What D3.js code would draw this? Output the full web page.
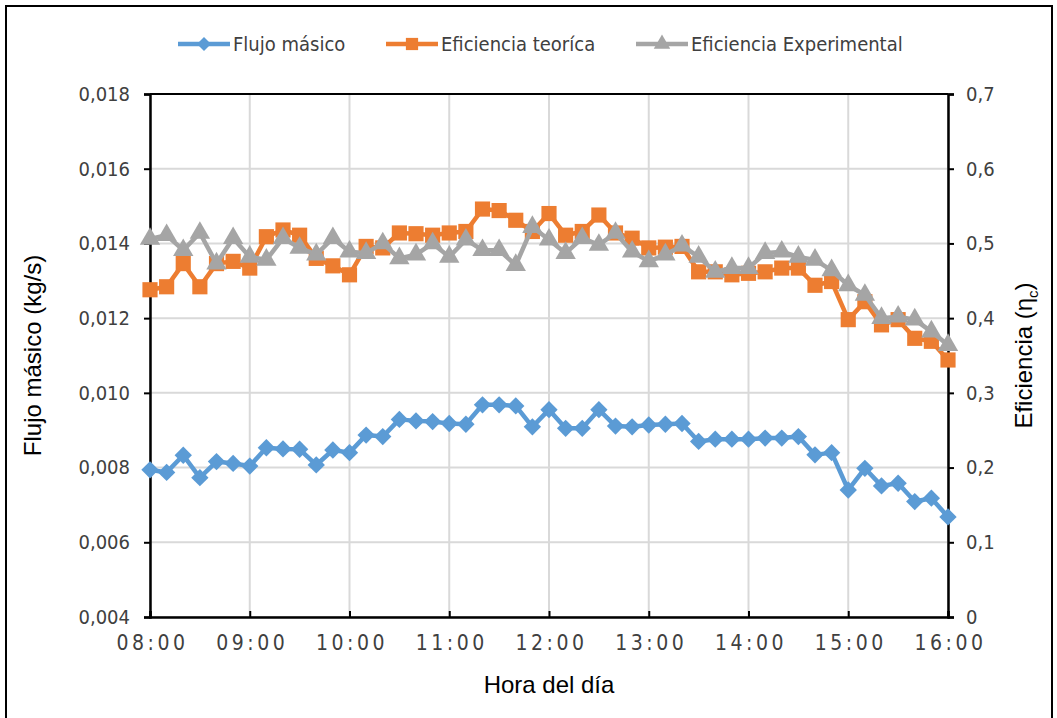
<!DOCTYPE html>
<html>
<head>
<meta charset="utf-8">
<script src="https://cdn.jsdelivr.net/npm/d3@7/dist/d3.min.js"></script>
<style>
  body { margin: 0; background: #fff; }
  svg { display: block; }
  .tick text { fill: #404040; }
</style>
</head>
<body>
<svg id="chart" width="1057" height="718"></svg>
<script>
// Hourly log, one reading every 10 minutes
const times = [
  "08:00","08:10","08:20","08:30","08:40","08:50",
  "09:00","09:10","09:20","09:30","09:40","09:50",
  "10:00","10:10","10:20","10:30","10:40","10:50",
  "11:00","11:10","11:20","11:30","11:40","11:50",
  "12:00","12:10","12:20","12:30","12:40","12:50",
  "13:00","13:10","13:20","13:30","13:40","13:50",
  "14:00","14:10","14:20","14:30","14:40","14:50",
  "15:00","15:10","15:20","15:30","15:40","15:50",
  "16:00"
];

// Mass flow (kg/s)
const flujoMasico = [
  0.00794, 0.00787, 0.00833, 0.00773, 0.00816, 0.00811,
  0.00804, 0.00853, 0.00850, 0.00849, 0.00807, 0.00847,
  0.00840, 0.00887, 0.00883, 0.00929, 0.00925, 0.00923,
  0.00918, 0.00916, 0.00968, 0.00968, 0.00965, 0.00909,
  0.00955, 0.00905, 0.00905, 0.00955, 0.00911, 0.00909,
  0.00914, 0.00916, 0.00918, 0.00870, 0.00876, 0.00876,
  0.00876, 0.00879, 0.00879, 0.00883, 0.00834, 0.00840,
  0.00740, 0.00798, 0.00751, 0.00758, 0.00709, 0.00718,
  0.00668
];

// Theoretical efficiency
const eficienciaTeorica = [
  0.438, 0.442, 0.473, 0.442, 0.473, 0.476,
  0.467, 0.509, 0.518, 0.511, 0.480, 0.470,
  0.458, 0.496, 0.494, 0.514, 0.513, 0.511,
  0.514, 0.516, 0.546, 0.544, 0.531, 0.516,
  0.540, 0.511, 0.516, 0.538, 0.514, 0.507,
  0.494, 0.495, 0.496, 0.462, 0.462, 0.458,
  0.460, 0.462, 0.467, 0.467, 0.444, 0.449,
  0.398, 0.422, 0.391, 0.398, 0.373, 0.369,
  0.344
];

// Measured efficiency
const eficienciaExperimental = [
  0.506, 0.511, 0.491, 0.514, 0.473, 0.507,
  0.482, 0.478, 0.507, 0.494, 0.485, 0.507,
  0.489, 0.487, 0.500, 0.480, 0.485, 0.500,
  0.482, 0.505, 0.491, 0.491, 0.471, 0.522,
  0.505, 0.487, 0.507, 0.498, 0.514, 0.489,
  0.476, 0.485, 0.497, 0.482, 0.462, 0.467,
  0.467, 0.487, 0.489, 0.482, 0.478, 0.464,
  0.444, 0.431, 0.400, 0.402, 0.398, 0.382,
  0.364
];

const xTicks = ["08:00","09:00","10:00","11:00","12:00","13:00","14:00","15:00","16:00"];
const leftTicks = [0.004, 0.006, 0.008, 0.010, 0.012, 0.014, 0.016, 0.018];
const rightTicks = [0, 0.1, 0.2, 0.3, 0.4, 0.5, 0.6, 0.7];

const seriesNames = ["Flujo másico", "Eficiencia teoríca", "Eficiencia Experimental"];
const colors = ["#5B9BD5", "#ED7D31", "#A5A5A5"];

const parseT = d3.timeParse("%H:%M");
const fmtT = d3.timeFormat("%H:%M");

const svg = d3.select("#chart");
const W = 1057, H = 718;
const m = { left: 150, right: 1057 - 948, top: 94, bottom: 718 - 617 };

const labelFont = "'Liberation Sans Narrow', 'Arial Narrow', 'DejaVu Sans Condensed', sans-serif";
const titleFont = "'Liberation Sans', Arial, sans-serif";

// Diamond drawn as a square turned 45 degrees
const diamond45 = {
  draw(ctx, size) {
    const r = Math.sqrt(size / 2);
    ctx.moveTo(0, -r); ctx.lineTo(r, 0); ctx.lineTo(0, r); ctx.lineTo(-r, 0); ctx.closePath();
  }
};

// Outer frame
svg.append("rect")
  .attr("x", 6).attr("y", 6).attr("width", W - 11).attr("height", H + 10)
  .attr("fill", "none").attr("stroke", "#000").attr("stroke-width", 2);

const x = d3.scaleTime()
  .domain([parseT(xTicks[0]), parseT(xTicks[xTicks.length - 1])])
  .range([m.left, W - m.right]);
const yL = d3.scaleLinear().domain([0.004, 0.018]).range([H - m.bottom, m.top]);
const yR = d3.scaleLinear().domain([0, 0.7]).range([H - m.bottom, m.top]);

// Gridlines
const grid = svg.append("g");
grid.selectAll("line.h").data(leftTicks).join("line")
  .attr("x1", m.left).attr("x2", W - m.right)
  .attr("y1", d => yL(d)).attr("y2", d => yL(d))
  .attr("stroke", "#d9d9d9").attr("stroke-width", 2);
grid.selectAll("line.v").data(xTicks).join("line")
  .attr("y1", m.top).attr("y2", H - m.bottom)
  .attr("x1", d => x(parseT(d))).attr("x2", d => x(parseT(d)))
  .attr("stroke", "#d9d9d9").attr("stroke-width", 2);

// Top border of plot area
svg.append("line")
  .attr("x1", m.left).attr("x2", W - m.right)
  .attr("y1", m.top).attr("y2", m.top)
  .attr("stroke", "#000").attr("stroke-width", 2);

// Axes
const axL = svg.append("g").attr("transform", `translate(${m.left},0)`)
  .call(d3.axisLeft(yL).tickValues(leftTicks).tickSize(6).tickPadding(14)
    .tickFormat(d => d3.format(".3f")(d).replace(".", ",")));
const axR = svg.append("g").attr("transform", `translate(${W - m.right},0)`)
  .call(d3.axisRight(yR).tickValues(rightTicks).tickSize(6).tickPadding(12)
    .tickFormat(d => d === 0 ? "0" : d3.format(".1f")(d).replace(".", ",")));
const axB = svg.append("g").attr("transform", `translate(0,${H - m.bottom})`)
  .call(d3.axisBottom(x).tickValues(xTicks.map(parseT)).tickSize(-6).tickPadding(18)
    .tickFormat(fmtT));

[axL, axR, axB].forEach(a => {
  a.select(".domain").attr("stroke", "#000").attr("stroke-width", 2.5);
  a.selectAll(".tick line").attr("stroke", "#000").attr("stroke-width", 2);
  a.selectAll(".tick text").attr("font-family", labelFont).attr("font-size", 20);
});
axB.selectAll(".tick text").attr("font-size", 21).attr("letter-spacing", "3.5px")
  .attr("dx", "2px");

// Axis titles
svg.append("text")
  .attr("transform", `translate(41,${(m.top + H - m.bottom) / 2}) rotate(-90)`)
  .attr("text-anchor", "middle").attr("font-family", titleFont).attr("font-size", 24)
  .attr("fill", "#000").text("Flujo másico (kg/s)");

const rt = svg.append("text")
  .attr("transform", `translate(1032,${(m.top + H - m.bottom) / 2}) rotate(-90)`)
  .attr("text-anchor", "middle").attr("font-family", titleFont).attr("font-size", 24)
  .attr("fill", "#000");
rt.append("tspan").text("Eficiencia (η");
rt.append("tspan").attr("font-size", 15).attr("dy", 6).text("c");
rt.append("tspan").attr("dy", -6).text(")");

svg.append("text")
  .attr("x", (m.left + W - m.right) / 2).attr("y", 693)
  .attr("text-anchor", "middle").attr("font-family", titleFont).attr("font-size", 24)
  .attr("fill", "#000").text("Hora del día");

// Series
const pts = times.map(parseT);
const series = [
  { vals: flujoMasico, y: yL, sym: diamond45, size: 150 },
  { vals: eficienciaTeorica, y: yR, sym: d3.symbolSquare, size: 230 },
  { vals: eficienciaExperimental, y: yR, sym: d3.symbolTriangle, size: 180 }
];

series.forEach((s, k) => {
  const g = svg.append("g");
  const line = d3.line().x((d, i) => x(pts[i])).y(d => s.y(d));
  g.append("path").datum(s.vals).attr("d", line)
    .attr("fill", "none").attr("stroke", colors[k]).attr("stroke-width", 4.5)
    .attr("stroke-linejoin", "round");
  g.selectAll("path.mk").data(s.vals).join("path").attr("class", "mk")
    .attr("d", d3.symbol().type(s.sym).size(s.size))
    .attr("transform", (d, i) => `translate(${x(pts[i])},${s.y(d)})`)
    .attr("fill", colors[k]);
});

// Legend
const legX = [178, 386, 636];
const leg = svg.append("g");
seriesNames.forEach((name, k) => {
  const lg = leg.append("g").attr("transform", `translate(${legX[k]},44)`);
  lg.append("line").attr("x1", 0).attr("x2", 52).attr("stroke", colors[k]).attr("stroke-width", 4.5);
  lg.append("path").attr("d", d3.symbol().type(series[k].sym).size(series[k].size * 0.65))
    .attr("transform", "translate(26,0)").attr("fill", colors[k]);
  lg.append("text").attr("x", 55).attr("dy", "0.35em")
    .attr("font-family", labelFont).attr("font-size", 20).attr("fill", "#404040").text(name);
});
</script>
</body>
</html>
